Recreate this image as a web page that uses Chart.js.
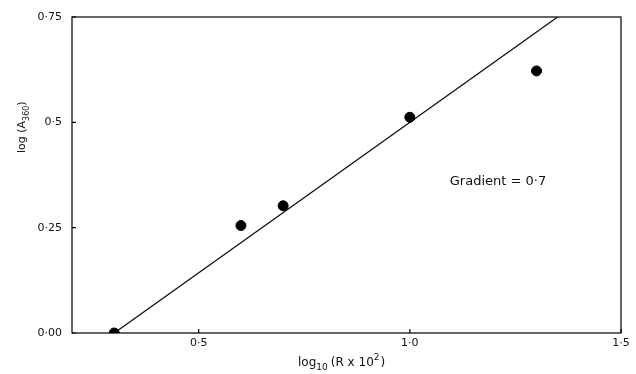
<!DOCTYPE html>
<html>
<head>
<meta charset="utf-8">
<script src="https://cdn.jsdelivr.net/npm/chart.js@4/dist/chart.umd.min.js"></script>
<style>
  html, body { margin: 0; padding: 0; background: #fff; }
  #wrap { width: 636px; height: 374px; }
</style>
</head>
<body>
<div id="wrap"><canvas id="myChart"></canvas></div>
<script>
// measured points
const logR = [0.3, 0.6, 0.7, 1.0, 1.3];
const logA = [0.0, 0.255, 0.302, 0.512, 0.622];
// fitted line (gradient ~0.7)
const fitX = [0.3, 1.35];
const fitY = [0.0, 0.75];

const xTicks = [0.5, 1.0, 1.5];
const xTickLabels = ['0·5', '1·0', '1·5'];
const yTicks = [0, 0.25, 0.5, 0.75];
const yTickLabels = ['0·00', '0·25', '0·5', '0·75'];
const noteText = 'Gradient = 0·7';

const FONT = '"DejaVu Sans", "Liberation Sans", sans-serif';

const framePlugin = {
    id: 'frame',
    afterDraw(chart) {
        const ctx = chart.ctx;
        const a = chart.chartArea;
        const xs = chart.scales.x;
        const ys = chart.scales.y;
        ctx.save();
        ctx.strokeStyle = '#000';
        ctx.lineWidth = 1.2;
        ctx.strokeRect(a.left, a.top, a.right - a.left, a.bottom - a.top);

        // small inward tick marks
        ctx.beginPath();
        yTicks.forEach(v => {
            const py = ys.getPixelForValue(v);
            ctx.moveTo(a.left, py);
            ctx.lineTo(a.left + 4, py);
        });
        xTicks.forEach(v => {
            const px = xs.getPixelForValue(v);
            ctx.moveTo(px, a.bottom);
            ctx.lineTo(px, a.bottom - 4);
        });
        ctx.stroke();

        ctx.fillStyle = '#111';
        ctx.textBaseline = 'alphabetic';

        // x title: log10 (R x 10^2)
        let x = 298, y = 366;
        ctx.textAlign = 'left';
        ctx.font = '12px ' + FONT;
        ctx.fillText('log', x, y); x += ctx.measureText('log').width;
        ctx.font = '9px ' + FONT;
        ctx.fillText('10', x, y + 4); x += ctx.measureText('10').width + 3;
        ctx.font = '12px ' + FONT;
        ctx.fillText('(R x 10', x, y); x += ctx.measureText('(R x 10').width;
        ctx.font = '9px ' + FONT;
        ctx.fillText('2', x, y - 6); x += ctx.measureText('2').width + 1;
        ctx.font = '12px ' + FONT;
        ctx.fillText(')', x, y);

        // y title: log (A360)
        ctx.save();
        ctx.translate(25, 153);
        ctx.rotate(-Math.PI / 2);
        let t = 0;
        ctx.font = '11px ' + FONT;
        ctx.fillText('log (A', t, 0); t += ctx.measureText('log (A').width;
        ctx.font = '8px ' + FONT;
        ctx.fillText('360', t, 4); t += ctx.measureText('360').width;
        ctx.font = '11px ' + FONT;
        ctx.fillText(')', t, 0);
        ctx.restore();

        // annotation
        ctx.font = '13px ' + FONT;
        ctx.textAlign = 'center';
        ctx.textBaseline = 'middle';
        ctx.fillText(noteText, 498, 182);
        ctx.restore();
    }
};

const ctx = document.getElementById('myChart');
const myChart = new Chart(ctx, {
    type: 'scatter',
    data: {
        datasets: [{
            label: 'fit',
            type: 'line',
            data: fitX.map((v, i) => ({x: v, y: fitY[i]})),
            borderColor: '#111',
            borderWidth: 1.3,
            pointRadius: 0,
            fill: false,
            order: 2
        }, {
            label: 'data',
            data: logR.map((v, i) => ({x: v, y: logA[i]})),
            backgroundColor: '#000',
            borderColor: '#000',
            pointRadius: 5,
            order: 1
        }]
    },
    options: {
        responsive: true,
        maintainAspectRatio: false,
        animation: false,
        layout: { padding: { top: 17, right: 15, left: 0, bottom: 0 } },
        plugins: {
            legend: { display: false },
            tooltip: { enabled: false }
        },
        scales: {
            x: {
                type: 'linear',
                min: 0.2,
                max: 1.5,
                grid: { display: false, drawTicks: false },
                border: { display: false },
                afterBuildTicks: s => { s.ticks = xTicks.map(v => ({value: v})); },
                afterFit: s => { s.height = 41; },
                ticks: {
                    padding: 4,
                    color: '#111',
                    maxRotation: 0,
                    font: { family: FONT, size: 11 },
                    callback: v => xTickLabels[xTicks.indexOf(v)]
                }
            },
            y: {
                type: 'linear',
                min: 0,
                max: 0.75,
                grid: { display: false, drawTicks: false },
                border: { display: false },
                afterBuildTicks: s => { s.ticks = yTicks.map(v => ({value: v})); },
                afterFit: s => { s.width = 72; },
                ticks: {
                    padding: 10,
                    color: '#111',
                    font: { family: FONT, size: 11 },
                    callback: v => yTickLabels[yTicks.indexOf(v)]
                }
            }
        }
    },
    plugins: [framePlugin]
});
</script>
</body>
</html>
